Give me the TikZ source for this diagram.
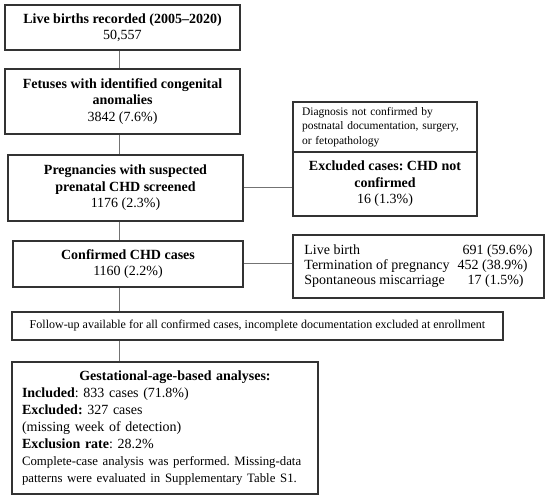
\documentclass[tikz,border=0pt]{standalone}
\usepackage{fontspec}
\setmainfont{Liberation Serif}
\usetikzlibrary{positioning, calc}
\frenchspacing

\begin{document}
\begin{tikzpicture}[
    x=1pt, y=-1pt,
    every node/.style={font=\fontsize{14}{16.5}\selectfont},
    box/.style={draw=black!80, line width=1.2pt, align=center, inner sep=2pt},
    note/.style={box, align=left, inner xsep=9pt, font=\fontsize{11.5}{14.5}\selectfont},
    link/.style={draw=black!55, line width=1pt}
]
\useasboundingbox (0,0) rectangle (550,500);

% Main column
\node[box, minimum width=235pt, minimum height=45pt] (births) at (122.5,27.5)
    {\textbf{Live births recorded (2005--2020)}\\50,557};
\node[box, minimum width=235pt, minimum height=65pt] (anom) at (122.5,101.5)
    {\textbf{Fetuses with identified congenital}\\\textbf{anomalies}\\3842 (7.6\%)};
\node[box, minimum width=235pt, minimum height=66pt] (susp) at (125.5,188)
    {\textbf{Pregnancies with suspected}\\\textbf{prenatal CHD screened}\\1176 (2.3\%)};
\node[box, minimum width=230pt, minimum height=46pt] (conf) at (128,264)
    {\textbf{Confirmed CHD cases}\\1160 (2.2\%)};
\node[box, minimum width=491pt, minimum height=28pt, font=\fontsize{12}{14}\selectfont] (follow) at (257.5,326)
    {Follow-up available for all confirmed cases, incomplete documentation excluded at enrollment};
\node[box, text width=286pt, minimum height=132pt, align=left, inner xsep=10pt,
      font=\fontsize{14}{17}\selectfont] (ga) at (165,428)
    {\makebox[\linewidth]{\hspace{20pt}\textbf{Gestational-age-based analyses:}}\\
     \textbf{Included}: 833 cases (71.8\%)\\
     \textbf{Excluded:} 327 cases\\
     (missing week of detection)\\
     \textbf{Exclusion rate}: 28.2\%\\
     {\fontsize{12.8}{17}\selectfont Complete-case analysis was performed. Missing-data\\
     patterns were evaluated in Supplementary Table S1.}};

% Side boxes
\node[note, text width=166pt, minimum height=50pt] (why) at (385,127)
    {Diagnosis not confirmed by\\postnatal documentation, surgery,\\or fetopathology};
\node[box, minimum width=184pt, minimum height=64pt] (excl) at (385,184)
    {\textbf{Excluded cases: CHD not}\\\textbf{confirmed}\\16 (1.3\%)};
\node[box, minimum width=251pt, minimum height=63pt, font=\fontsize{14}{15}\selectfont] (outc) at (418.5,266.5)
    {\begin{tabular}{@{}l@{\hspace{8pt}}l@{}}
     Live birth & \hspace{5pt}691 (59.6\%)\\
     Termination of pregnancy & 452 (38.9\%)\\
     Spontaneous miscarriage & \hspace{10pt}17 (1.5\%)
     \end{tabular}};

% Connectors
\coordinate (spine) at (119,0);
\draw[link] (births.south -| spine) -- (anom.north -| spine);
\draw[link] (anom.south -| spine) -- (susp.north -| spine);
\draw[link] (susp.south -| spine) -- (conf.north -| spine);
\draw[link] (conf.south -| spine) -- (follow.north -| spine);
\draw[link] (follow.south -| spine) -- (ga.north -| spine);
\draw[link] (susp.east) -- (susp.east -| excl.west);
\draw[link] (conf.east) -- (conf.east -| outc.west);

\end{tikzpicture}
\end{document}
